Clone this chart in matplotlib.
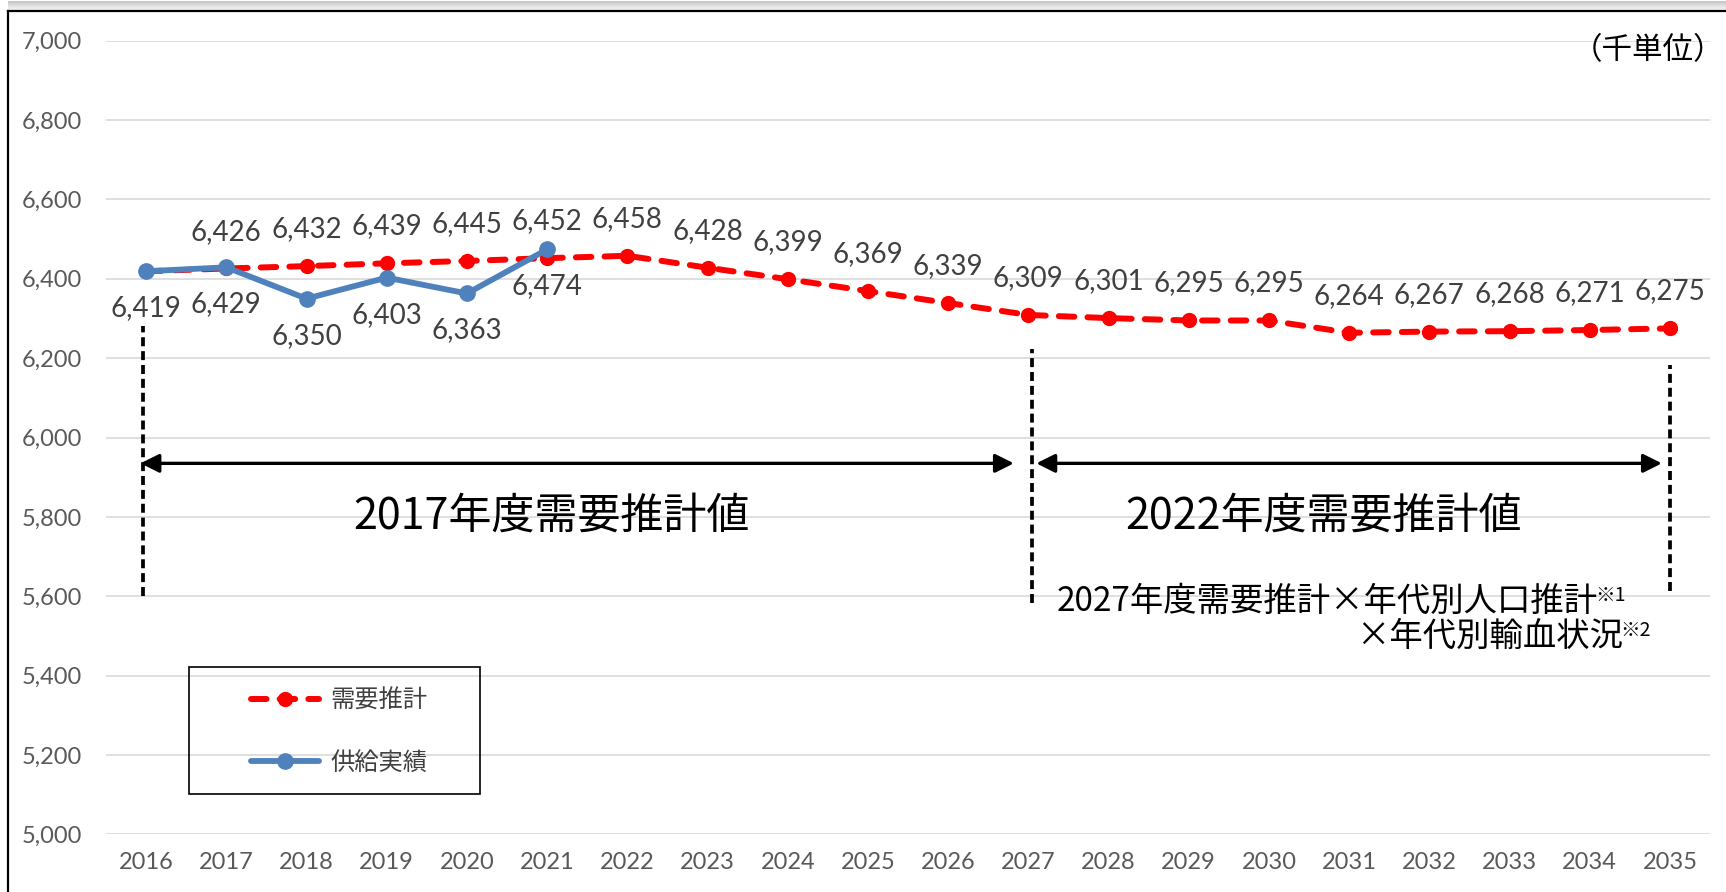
import matplotlib
matplotlib.use('Agg')
import matplotlib.pyplot as plt
from matplotlib.lines import Line2D
from matplotlib.patches import Rectangle

# chart values (千単位)
years = [str(y) for y in range(2016, 2036)]
demand = [6419, 6426, 6432, 6439, 6445, 6452, 6458, 6428, 6399, 6369,
          6339, 6309, 6301, 6295, 6295, 6264, 6267, 6268, 6271, 6275]
supply = [6419, 6429, 6350, 6403, 6363, 6474]
yticks = list(range(5000, 7001, 200))

# period annotations
period_labels = ['2017年度需要推計値', '2022年度需要推計値']
period_centers = [5.06, 14.68]
period_spans = [(-0.07, 10.82), (11.1, 18.9)]
divider_lines = [(-0.04, 5600, 6280), (11.04, 5583, 6223), (19.0, 5613, 6182)]

JP = ['Noto Sans CJK JP', 'DejaVu Sans']
NUM = ['Lato', 'DejaVu Sans']

W, H = 1726, 892
fig = plt.figure(figsize=(W / 100, H / 100), dpi=100)
fig.patch.set_facecolor('white')

ax = fig.add_axes([106 / W, 1 - 834.4 / H, (1710 - 106) / W, (834.4 - 40.7) / H])
x = list(range(len(years)))

ax.plot(x, demand, color='#FF0000', lw=4.3, linestyle=(0, (2.6, 2.2)),
        dash_capstyle='round', marker='o', markersize=10, zorder=3,
        label='需要推計')
ax.plot(x[:len(supply)], supply, color='#4F81BD', lw=4.2, marker='o',
        markersize=11, solid_capstyle='round', zorder=4, label='供給実績')

# data labels
for i, v in enumerate(demand):
    if i == 0:
        continue
    ax.annotate(f'{v:,}', (i, v), xytext=(0, 26.6), textcoords='offset points',
                ha='center', va='center', fontsize=20, color='#404040',
                family=NUM, zorder=5)
for i, v in enumerate(supply):
    ax.annotate(f'{v:,}', (i, v), xytext=(0, -26.6), textcoords='offset points',
                ha='center', va='center', fontsize=20, color='#404040',
                family=NUM, zorder=5)

ax.set_xlim(-0.5, len(years) - 0.5)
ax.set_ylim(5000, 7000)
ax.set_xticks(x)
ax.set_xticklabels(years, family=NUM, fontsize=17, color='#595959')
ax.set_yticks(yticks)
ax.set_yticklabels([f'{t:,}' for t in yticks], family=NUM, fontsize=17,
                   color='#595959')
ax.tick_params(axis='both', length=0)
ax.tick_params(axis='y', pad=17)
ax.tick_params(axis='x', pad=13)
ax.grid(axis='y', color='#D9D9D9', lw=1.2)
ax.set_axisbelow(True)
for s in ax.spines.values():
    s.set_visible(False)

# period arrows, dividers and titles
for (x0, x1) in period_spans:
    ax.annotate('', xy=(x0, 5935), xytext=(x1, 5935),
                arrowprops=dict(arrowstyle='<|-|>', lw=2.4, color='black',
                                mutation_scale=28, shrinkA=0, shrinkB=0))
for (xv, y0, y1) in divider_lines:
    ax.plot([xv, xv], [y0, y1], color='black', lw=2.7,
            linestyle=(0, (2.4, 1.3)), zorder=2)
for lab, xc in zip(period_labels, period_centers):
    ax.text(xc, 5800, lab, ha='center', va='center', fontsize=31,
            family=JP, color='black')

# unit note
fig.text(1724 / W, 1 - 51 / H, '（千単位）', ha='right', va='center',
         fontsize=22, family=JP, color='black')

# method note with superscripts
note1 = fig.text(1057 / W, 1 - 601 / H, '2027年度需要推計×年代別人口推計',
                 ha='left', va='center', fontsize=24, family=JP, color='black')
note2 = fig.text(1356 / W, 1 - 636 / H, '×年代別輸血状況',
                 ha='left', va='center', fontsize=24, family=JP, color='black')
fig.canvas.draw()
r = fig.canvas.get_renderer()
for t, sup in [(note1, '※1'), (note2, '※2')]:
    bb = t.get_window_extent(r)
    fig.text((bb.x1 - 3) / W, (bb.y1 - 12) / H, sup, ha='left', va='center',
             fontsize=14, family=JP, color='black')

# legend: entries without frame, box drawn separately
leg = ax.legend(loc='center left', bbox_to_anchor=(251 / W, 1 - 731.5 / H),
                bbox_transform=fig.transFigure, borderaxespad=0, borderpad=0,
                frameon=False, handlelength=2.8, handletextpad=0.45,
                labelspacing=1.48, prop={'family': JP, 'size': 17.5})
for t in leg.get_texts():
    t.set_color('#404040')
fig.add_artist(Rectangle((189 / W, 1 - 794 / H), (480 - 189) / W, (794 - 667) / H,
                         transform=fig.transFigure, facecolor='none',
                         edgecolor='black', lw=1.2, zorder=1))

# outer frame with top shadow
for k, c in enumerate(['#F4F4F4', '#ECECEC', '#E2E2E2', '#D6D6D6', '#C8C8C8']):
    fig.add_artist(Rectangle((8 / W, 1 - (11 - k * 2) / H), 1, 2 / H,
                             transform=fig.transFigure, facecolor=c,
                             edgecolor='none', zorder=0))
fig.add_artist(Line2D([8 / W, 1], [1 - 11 / H, 1 - 11 / H], color='black',
                      lw=1.6, transform=fig.transFigure))
fig.add_artist(Line2D([8 / W, 8 / W], [0, 1 - 11 / H], color='black',
                      lw=1.6, transform=fig.transFigure))

fig.savefig('out.png', dpi=100, facecolor='white')
